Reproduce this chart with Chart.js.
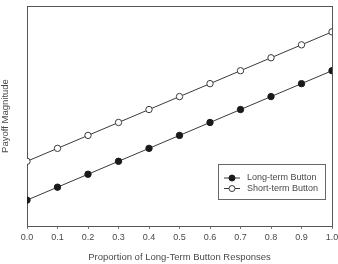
<!DOCTYPE html>
<html>
<head>
<meta charset="utf-8">
<script src="https://cdn.jsdelivr.net/npm/chart.js@4/dist/chart.umd.min.js"></script>
<style>
html,body{margin:0;padding:0;background:#fff;}
canvas{display:block;}
</style>
</head>
<body>
<canvas id="c" width="338" height="264"></canvas>
<script>
const proportions = [0.0,0.1,0.2,0.3,0.4,0.5,0.6,0.7,0.8,0.9,1.0];
const longTerm = [2,3,4,5,6,7,8,9,10,11,12];
const shortTerm = [5,6,7,8,9,10,11,12,13,14,15];
const seriesNames = ["Long-term Button","Short-term Button"];
const xTitle = "Proportion of Long-Term Button Responses";
const yTitle = "Payoff Magnitude";

const FONT = "'Liberation Sans', Arial, Helvetica, sans-serif";
const TEXT = "#4a4a4a";
const LINE = "#3a3a3a";

const toPts = arr => arr.map((v,i)=>({x:proportions[i], y:v}));

const framePlugin = {
  id:'frame',
  afterDatasetsDraw(chart){
    const {ctx, chartArea:a} = chart;
    ctx.save();
    ctx.strokeStyle = "#555";
    ctx.lineWidth = 1;
    ctx.beginPath();
    ctx.moveTo(a.left, a.top+0.5); ctx.lineTo(a.right+0.5, a.top+0.5);
    ctx.moveTo(a.right+0.5, a.top); ctx.lineTo(a.right+0.5, a.bottom);
    ctx.stroke();
    // legend
    const bx = a.right - 114, by = a.bottom - 62, bw = 107, bh = 35;
    ctx.fillStyle = "#fff";
    ctx.fillRect(bx, by, bw, bh);
    ctx.strokeStyle = "#666";
    ctx.strokeRect(bx+0.5, by+0.5, bw, bh);
    ctx.font = "9px " + FONT;
    ctx.textBaseline = "middle";
    chart.data.datasets.forEach((ds, i) => {
      const yy = by + 14 + i*10.5;
      const lx0 = bx + 6, lx1 = bx + 22, mx = bx + 14;
      ctx.strokeStyle = ds.borderColor;
      ctx.lineWidth = 1;
      ctx.beginPath(); ctx.moveTo(lx0, yy); ctx.lineTo(lx1, yy); ctx.stroke();
      ctx.beginPath(); ctx.arc(mx, yy, 3, 0, Math.PI*2);
      ctx.fillStyle = ds.pointBackgroundColor; ctx.fill();
      ctx.strokeStyle = ds.pointBorderColor; ctx.stroke();
      ctx.fillStyle = TEXT;
      ctx.fillText(ds.label, bx + 29, yy);
    });
    ctx.restore();
  }
};

new Chart(document.getElementById('c'), {
  type:'line',
  data:{
    datasets:[
      {label:seriesNames[0], data:toPts(longTerm), borderColor:LINE, borderWidth:1,
       pointRadius:3.2, pointBackgroundColor:"#1a1a1a", pointBorderColor:"#1a1a1a", pointBorderWidth:1, tension:0},
      {label:seriesNames[1], data:toPts(shortTerm), borderColor:LINE, borderWidth:1,
       pointRadius:3.2, pointBackgroundColor:"#ffffff", pointBorderColor:"#3a3a3a", pointBorderWidth:1, tension:0}
    ]
  },
  options:{
    responsive:false,
    animation:false,
    layout:{padding:{top:6,right:6,left:0,bottom:0}},
    plugins:{legend:{display:false}, tooltip:{enabled:false}},
    scales:{
      x:{
        type:'linear', min:0, max:1,
        border:{display:true, color:"#555"},
        grid:{display:true, drawOnChartArea:false, drawTicks:true, tickLength:3, color:"#777"},
        ticks:{stepSize:0.1, padding:3, color:TEXT, font:{family:FONT,size:9},
               callback:v=>Number(v).toFixed(1), maxRotation:0, autoSkip:false},
        title:{display:true, text:xTitle, color:TEXT, font:{family:FONT,size:9.5}, padding:{top:0,bottom:1}},
        afterFit(s){ s.height = 38; s.paddingLeft = 0; s.paddingRight = 0; }
      },
      y:{
        min:0, max:17,
        border:{display:true, color:"#555"},
        grid:{display:false},
        ticks:{display:false},
        title:{display:true, text:yTitle, color:TEXT, font:{family:FONT,size:9.5}, padding:{top:0,bottom:0}},
        afterFit(s){ s.width = 27; s.paddingTop = 0; s.paddingBottom = 0; }
      }
    }
  },
  plugins:[framePlugin]
});
</script>
</body>
</html>
